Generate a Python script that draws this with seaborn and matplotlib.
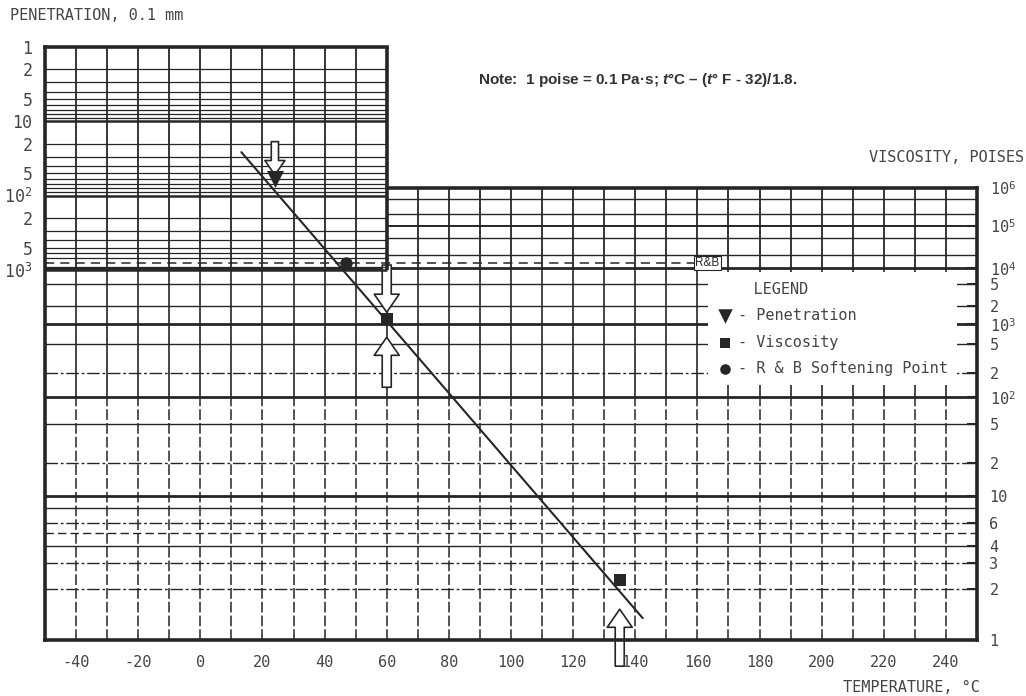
import numpy as np
import pandas as pd
import matplotlib
matplotlib.use("Agg")
import matplotlib.pyplot as plt
import seaborn as sns
from matplotlib.patches import ConnectionPatch
from matplotlib.ticker import NullLocator, FixedLocator
from matplotlib.font_manager import FontProperties

# ---------------- data ----------------
TEMP_TICKS = [-40, -20, 0, 20, 40, 60, 80, 100, 120, 140, 160, 180, 200, 220, 240]
PEN_TICKS = [1, 2, 5, 10, 20, 50, 100, 200, 500, 1000]
PEN_TICK_LABELS = ["1", "2", "5", "10", "2", "5", "$10^2$", "2", "5", "$10^3$"]
VISC_TICKS = [1, 2, 3, 4, 6, 10, 20, 50, 100, 200, 500, 1000, 2000, 5000, 1e4, 1e5, 1e6]
VISC_TICK_LABELS = ["1", "2", "3", "4", "6", "10", "2", "5", "$10^2$", "2", "5",
                    "$10^3$", "2", "5", "$10^4$", "$10^5$", "$10^6$"]

pen_temp = [24]          # deg C
pen_value = [60]         # 0.1 mm
rb_temp = [47]           # R&B softening point, deg C
rb_pen = [800]           # plotted on the R&B line (pen 800)
visc_temp = [60, 135]    # deg C
visc_value = [1200, 2.3] # poises
line_temp = [13.2, 142.4]
line_start_pen = 26      # penetration at start of fitted line
line_end_visc = 1.33     # viscosity at end of fitted line

legend_labels = ["- Penetration", "- Viscosity", "- R & B Softening Point"]

# ---------------- style ----------------
sns.set_style("white")
MONO = "DejaVu Sans Mono"
plt.rcParams["font.family"] = [MONO, "DejaVu Sans"]
plt.rcParams["axes.unicode_minus"] = False
plt.rcParams["mathtext.fontset"] = "custom"
plt.rcParams["mathtext.rm"] = MONO
plt.rcParams["mathtext.it"] = "Liberation Sans:italic:bold"
plt.rcParams["mathtext.bf"] = MONO + ":bold"
INK = "#262626"
TXT = "#454545"

# viscosity scale of the chart (log-log type), anchored at the decades
VISC_SHIFT = 1.7
VISC_DECADE_HEIGHT = np.array([0.0, 0.318, 0.537, 0.699, 0.823, 0.916, 1.0])


def _u(v):
    v = np.clip(np.asarray(v, dtype=float), 0.05, None)
    return np.log10(np.log10(v) + VISC_SHIFT)


U_ANCH = _u(10.0 ** np.arange(7))


def visc_fwd(v):
    return np.interp(_u(v), U_ANCH, VISC_DECADE_HEIGHT)


def visc_inv(h):
    u = np.interp(np.asarray(h, dtype=float), VISC_DECADE_HEIGHT, U_ANCH)
    return 10.0 ** (10.0 ** u - VISC_SHIFT)


# ---------------- layout ----------------
W_PX, H_PX = 1026, 696
fig = plt.figure(figsize=(W_PX / 100, H_PX / 100), dpi=100)
fig.patch.set_facecolor("white")
L = 45 / W_PX
R = 977 / W_PX
B = (H_PX - 640) / H_PX
H_PEN = (640 - 47) / H_PX
H_VIS = (640 - 188) / H_PX

ax_vis = fig.add_axes([L, B, R - L, H_VIS])
ax_pen = fig.add_axes([L, B, R - L, H_PEN], sharex=ax_vis)
ax_pen.set_zorder(2)
ax_vis.set_zorder(1)
ax_pen.patch.set_visible(False)

ax_vis.set_xlim(-50, 250)
ax_pen.set_yscale("log")
ax_pen.set_ylim(10 ** 7.98, 1)
ax_vis.set_yscale("function", functions=(visc_fwd, visc_inv))
ax_vis.set_ylim(1, 1e6)

# ---------------- penetration grid (upper-left panel) ----------------
pen_minor = [m * 10 ** d for d in range(3) for m in range(2, 10) if m * 10 ** d != 800]
ax_pen.hlines(pen_minor, -50, 60, color=INK, lw=0.9, zorder=1)
ax_pen.hlines([10, 100, 1000], -50, 60, color=INK, lw=1.8, zorder=1)
ax_pen.vlines(np.arange(-40, 60, 10), 1, 1000, color=INK, lw=1.3, zorder=1)
ax_pen.vlines(60, 1, 1000, color=INK, lw=2.6, zorder=2)

# R&B line
ax_pen.hlines(rb_pen, -50, 159, color=INK, lw=1.1, linestyles=(0, (6, 4)), zorder=2)
ax_pen.text(159.3, rb_pen[0], "R&B", fontsize=8.5, color=INK, va="center", ha="left",
            family="Liberation Sans",
            bbox=dict(boxstyle="square,pad=0.1", fc="white", ec=INK, lw=0.8), zorder=3)

# ---------------- viscosity grid ----------------
ax_vis.hlines([5e5, 2e5, 5e4, 2e4], 60, 250, color=INK, lw=1.0, zorder=1)
ax_vis.hlines([1e5], 60, 250, color=INK, lw=1.4, zorder=1)
ax_vis.vlines(np.arange(70, 250, 10), 1e4, 1e6, color=INK, lw=1.3, zorder=1)
ax_vis.vlines(np.arange(-40, 250, 10), 100, 1e4, color=INK, lw=1.2, zorder=1)
ax_vis.vlines(np.arange(-40, 250, 10), 1, 100, color=INK, lw=1.1,
              linestyles=(0, (7, 2)), zorder=1)
ax_vis.hlines([1e4, 1e3, 100, 10], -50, 250, color=INK, lw=2.0, zorder=1)
ax_vis.hlines([5000, 2000, 500, 50, 8, 4], -50, 250, color=INK, lw=1.0, zorder=1)
ax_vis.hlines([200, 20, 6, 3, 2], -50, 250, color=INK, lw=1.0,
              linestyles=(0, (9, 2, 2, 2)), zorder=1)
ax_vis.hlines([5], -50, 250, color=INK, lw=1.0, linestyles=(0, (6, 3)), zorder=1)

# ---------------- frame ----------------
for sp in ["left", "bottom", "top"]:
    ax_pen.spines[sp].set_linewidth(2.6)
    ax_pen.spines[sp].set_color(INK)
ax_pen.spines["right"].set_visible(False)
ax_pen.spines["top"].set_bounds(-50, 60)
for sp in ["left", "bottom"]:
    ax_vis.spines[sp].set_visible(False)
for sp in ["top", "right"]:
    ax_vis.spines[sp].set_linewidth(2.6)
    ax_vis.spines[sp].set_color(INK)
ax_vis.spines["top"].set_bounds(60, 250)

# ---------------- data points ----------------
sns.scatterplot(x=pen_temp, y=pen_value, marker="v", s=150, color=INK, linewidth=0,
                zorder=6, ax=ax_pen, label=legend_labels[0], legend=False)
sns.scatterplot(x=rb_temp, y=rb_pen, marker="o", s=80, color=INK, linewidth=0,
                zorder=6, ax=ax_pen, label=legend_labels[2], legend=False)
sns.scatterplot(x=visc_temp, y=visc_value, marker="s", s=80, color=INK, linewidth=0,
                zorder=6, ax=ax_vis, label=legend_labels[1], legend=False)

# fitted straight line across both scales
con = ConnectionPatch(xyA=(line_temp[0], line_start_pen), coordsA=ax_pen.transData,
                      xyB=(line_temp[1], line_end_visc), coordsB=ax_vis.transData,
                      color=INK, lw=1.5, zorder=4)
ax_pen.add_artist(con)


# hollow block arrows
def arrow(scale, shrink):
    return dict(arrowstyle="simple,head_length=1.3,head_width=1.8,tail_width=0.65",
                mutation_scale=scale, fc="white", ec=INK, lw=1.2,
                shrinkA=0, shrinkB=shrink)


ax_pen.annotate("", xy=(pen_temp[0], pen_value[0]), xytext=(0, 27),
                textcoords="offset points", arrowprops=arrow(8, 3), zorder=5)
ax_vis.annotate("", xy=(visc_temp[0], visc_value[0]), xytext=(0, 39),
                textcoords="offset points", arrowprops=arrow(10, 5), zorder=5)
ax_vis.annotate("", xy=(visc_temp[0], visc_value[0]), xytext=(0, -49),
                textcoords="offset points", arrowprops=arrow(10, 13), zorder=5)
ax_vis.annotate("", xy=(visc_temp[1], visc_value[1]), xytext=(0, -62),
                textcoords="offset points", arrowprops=arrow(10, 21), zorder=5)

# ---------------- ticks ----------------
ax_pen.yaxis.set_major_locator(FixedLocator(PEN_TICKS))
ax_pen.yaxis.set_minor_locator(NullLocator())
ax_pen.set_yticklabels(PEN_TICK_LABELS)
ax_pen.tick_params(axis="y", length=0, pad=9, labelsize=12, labelcolor=TXT)
ax_pen.set_xticks(TEMP_TICKS)
ax_pen.xaxis.set_minor_locator(NullLocator())
ax_pen.tick_params(axis="x", length=0, pad=11, labelsize=11, labelcolor=TXT)

ax_vis.yaxis.tick_right()
ax_vis.yaxis.set_major_locator(FixedLocator(VISC_TICKS))
ax_vis.yaxis.set_minor_locator(NullLocator())
ax_vis.set_yticklabels(VISC_TICK_LABELS)
ax_vis.tick_params(axis="y", which="major", direction="in", length=7, width=1.5,
                   color=INK, pad=9, labelsize=11, labelcolor=TXT,
                   left=False, right=True, labelleft=False, labelright=True)
ax_vis.tick_params(axis="x", length=0, labelbottom=False)
ax_pen.set_xlabel("")
ax_pen.set_ylabel("")
ax_vis.set_xlabel("")
ax_vis.set_ylabel("")

# ---------------- legend ----------------
h1, l1 = ax_pen.get_legend_handles_labels()
h2, l2 = ax_vis.get_legend_handles_labels()
hmap = dict(zip(l1 + l2, h1 + h2))
mono = FontProperties(family=MONO, size=11)
leg = ax_vis.legend([hmap[k] for k in legend_labels], legend_labels,
                    title="    LEGEND", title_fontproperties=mono, prop=mono,
                    loc="upper left", bbox_to_anchor=(0.703, 0.83),
                    frameon=True, facecolor="white", edgecolor="none", framealpha=1,
                    fancybox=False, handlelength=1.0, handletextpad=0.4,
                    labelspacing=0.75, borderpad=0.6, alignment="left", markerscale=0.85)
for t in leg.get_texts():
    t.set_color(TXT)
leg.get_title().set_color(TXT)
leg.set_zorder(10)

# ---------------- titles / notes ----------------
fig.text(10 / W_PX, 1 - 15 / H_PX, "PENETRATION, 0.1 mm", fontsize=11, color=TXT,
         va="center", ha="left")
fig.text(1024 / W_PX, 1 - 157 / H_PX, "VISCOSITY, POISES", fontsize=11, color=TXT,
         va="center", ha="right")
fig.text(980 / W_PX, 1 - 687 / H_PX, "TEMPERATURE, °C", fontsize=11, color=TXT,
         va="center", ha="right")
fig.text(478 / W_PX, 1 - 80 / H_PX,
         r"Note:  1 poise = 0.1 Pa·s; $t$°C – ($t$° F - 32)/1.8.",
         fontsize=11, fontweight="bold", family="Liberation Sans", color="#333333",
         va="center", ha="left")

fig.savefig("out.png", dpi=100, facecolor="white")
